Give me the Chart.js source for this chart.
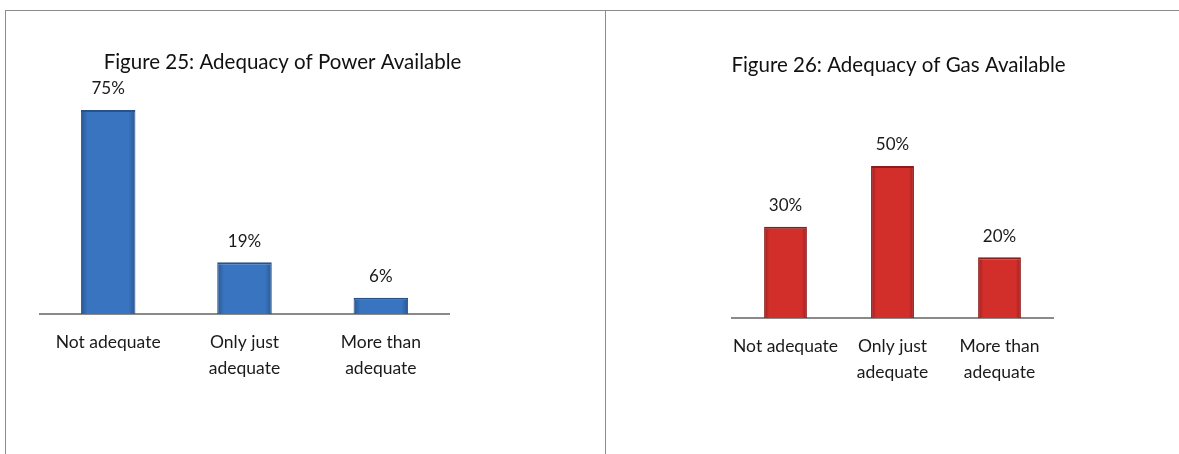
<!DOCTYPE html>
<html>
<head>
<meta charset="utf-8">
<script src="https://cdn.jsdelivr.net/npm/chart.js@4"></script>
<style>
  html, body { margin: 0; padding: 0; background: #fff; }
  body { width: 1179px; height: 454px; position: relative; overflow: hidden; }
  .frame { position: absolute; border-top: 1px solid #8c8c8c; border-left: 1px solid #8c8c8c; box-sizing: border-box; }
  .panel { position: absolute; }
</style>
</head>
<body>
<div class="frame" style="left:5px; top:10px; width:600px; height:444px;"></div>
<div class="frame" style="left:605px; top:10px; width:574px; height:444px;"></div>
<div class="panel" style="left:6px; top:11px; width:599px; height:443px;"><canvas id="chartPower"></canvas></div>
<div class="panel" style="left:606px; top:11px; width:573px; height:443px;"><canvas id="chartGas"></canvas></div>
<script>
// ── DADOS ──────────────────────────────────────────────────────────────────
const categories = ['Not adequate', ['Only just', 'adequate'], ['More than', 'adequate']];
const powerValues = [75, 19, 6];
const gasValues = [30, 50, 20];
const powerTitle = 'Figure 25: Adequacy of Power Available';
const gasTitle = 'Figure 26: Adequacy of Gas Available';

const FONT = "Lato, 'Open Sans', sans-serif";
Chart.defaults.font.family = FONT;
Chart.defaults.color = '#1a1a1a';

// título desenhado no canvas, deslocado em relação ao centro da área do gráfico
const panelTitle = {
  id: 'panelTitle',
  afterDraw(chart, args, opts) {
    const { ctx, chartArea } = chart;
    ctx.save();
    ctx.font = `${opts.size}px ${FONT}`;
    ctx.fillStyle = '#111';
    ctx.textAlign = 'center';
    ctx.textBaseline = 'middle';
    ctx.fillText(opts.text, (chartArea.left + chartArea.right) / 2 + opts.dx, opts.y);
    ctx.restore();
  }
};

// rótulo de valor acima de cada barra
const valueLabels = {
  id: 'valueLabels',
  afterDatasetsDraw(chart) {
    const { ctx } = chart;
    const meta = chart.getDatasetMeta(0);
    const data = chart.data.datasets[0].data;
    ctx.save();
    ctx.font = `17px ${FONT}`;
    ctx.fillStyle = '#1a1a1a';
    ctx.textAlign = 'center';
    ctx.textBaseline = 'middle';
    meta.data.forEach((bar, i) => ctx.fillText(data[i] + '%', bar.x, bar.y - 21));
    ctx.restore();
  }
};

// gradiente horizontal: bordas escuras, centro mais claro
function barGradient(edge, mid) {
  return c => {
    const chart = c.chart;
    if (!chart.chartArea) return mid;
    const xs = chart.scales.x;
    const cx = xs.getPixelForValue(c.dataIndex);
    const w = xs.width / chart.data.labels.length * 0.4;
    const g = chart.ctx.createLinearGradient(cx - w / 2, 0, cx + w / 2, 0);
    g.addColorStop(0, edge);
    g.addColorStop(0.12, mid);
    g.addColorStop(0.5, mid);
    g.addColorStop(0.88, mid);
    g.addColorStop(1, edge);
    return g;
  };
}

function makeChart(id, values, edge, mid, border, title, yMax, pad, titleOpts) {
  return new Chart(document.getElementById(id), {
    type: 'bar',
    data: {
      labels: categories,
      datasets: [{
        data: values,
        backgroundColor: barGradient(edge, mid),
        borderColor: border,
        borderWidth: { top: 2, left: 1, right: 1, bottom: 0 },
        borderSkipped: 'bottom',
        barPercentage: 0.4,
        categoryPercentage: 1
      }]
    },
    options: {
      responsive: true, maintainAspectRatio: false, animation: false,
      layout: { padding: pad },
      plugins: {
        legend: { display: false },
        tooltip: { enabled: false },
        panelTitle: { text: title, ...titleOpts }
      },
      scales: {
        x: {
          grid: { display: false, drawTicks: false },
          border: { display: true, color: '#8a8a8a', width: 2 },
          ticks: { font: { size: 17.5, lineHeight: 1.5 }, color: '#1a1a1a', padding: 15,
            maxRotation: 0, autoSkip: false },
          afterFit: s => { s.height = 80; }
        },
        y: { display: false, min: 0, max: yMax }
      }
    },
    plugins: [panelTitle, valueLabels]
  });
}

makeChart('chartPower', powerValues, '#2a5792', '#3874c0', '#27528a', powerTitle, 75,
  { left: 34, right: 156, top: 99, bottom: 60 }, { size: 20.5, dx: 38, y: 51 });

makeChart('chartGas', gasValues, '#9a1e1e', '#d22f2b', '#8c1b1b', gasTitle, 50,
  { left: 126, right: 126, top: 155, bottom: 56 }, { size: 20.5, dx: 6, y: 54 });
</script>
</body>
</html>
